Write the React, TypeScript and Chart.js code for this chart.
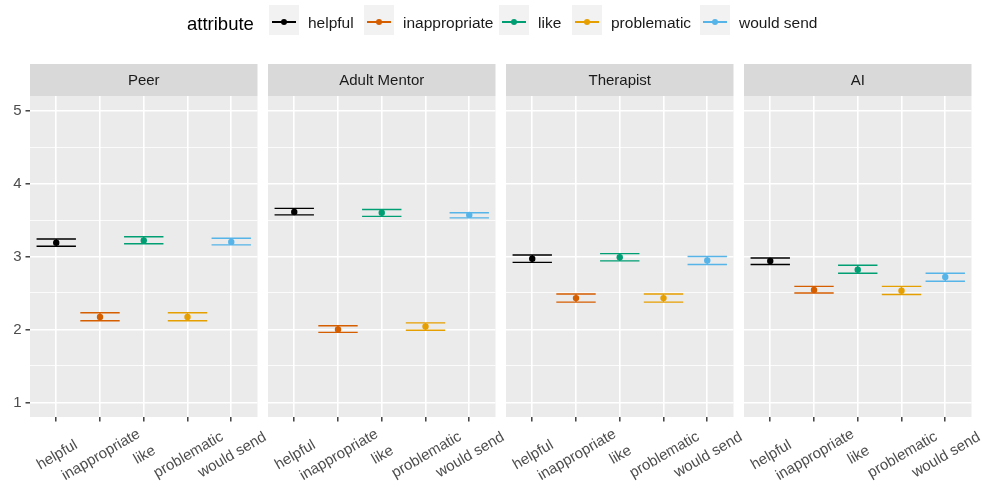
import React, { useEffect, useRef } from 'react';
import { Chart, registerables } from 'chart.js';

Chart.register(...registerables);

const panels = ['Peer', 'Adult Mentor', 'Therapist', 'AI'];
const attributes = ['helpful', 'inappropriate', 'like', 'problematic', 'would send'];
const attributeColors = ['#000000', '#D55E00', '#009E73', '#E69F00', '#56B4E9'];
const yTickValues = [1, 2, 3, 4, 5];

const peerMean = [3.19, 2.17, 3.22, 2.17, 3.2];
const peerLow = [3.14, 2.12, 3.175, 2.12, 3.16];
const peerHigh = [3.24, 2.23, 3.27, 2.23, 3.25];

const mentorMean = [3.61, 2.0, 3.6, 2.04, 3.57];
const mentorLow = [3.57, 1.96, 3.55, 1.99, 3.53];
const mentorHigh = [3.66, 2.05, 3.645, 2.09, 3.6];

const therapistMean = [2.97, 2.43, 2.99, 2.43, 2.945];
const therapistLow = [2.92, 2.375, 2.94, 2.375, 2.89];
const therapistHigh = [3.02, 2.485, 3.04, 2.485, 3.0];

const aiMean = [2.94, 2.54, 2.82, 2.53, 2.72];
const aiLow = [2.89, 2.5, 2.77, 2.48, 2.66];
const aiHigh = [2.98, 2.59, 2.88, 2.59, 2.77];

const panelMeans = [peerMean, mentorMean, therapistMean, aiMean];
const panelLows = [peerLow, mentorLow, therapistLow, aiLow];
const panelHighs = [peerHigh, mentorHigh, therapistHigh, aiHigh];

const W = 982;
const H = 489;
const FONT = '"Liberation Sans", Arial, Helvetica, sans-serif';
const PANEL_LEFT0 = 30;
const PANEL_STEP = 238;
const PANEL_W = 227.5;
const PANEL_TOP = 96;
const STRIP_H = 32;
const XAXIS_H = 72;

const legendKeyLefts = [269, 364, 499, 572, 700];

function isInt(v: number) {
  return Math.abs(v - Math.round(v)) < 1e-9;
}

function makeChart(canvas: HTMLCanvasElement, p: number) {
  const first = p === 0;
  const panelLeft = PANEL_LEFT0 + p * PANEL_STEP;
  const yAxisW = first ? 30 : 0;
  const means = panelMeans[p];
  const lows = panelLows[p];
  const highs = panelHighs[p];
  const yAll: number[] = [];
  yTickValues.forEach((v, i) => {
    yAll.push(v);
    if (i < yTickValues.length - 1) yAll.push(v + 0.5);
  });

  const panelPlugin = {
    id: 'panelPlugin',
    beforeDraw(chart: any) {
      const { ctx, chartArea } = chart;
      ctx.save();
      ctx.fillStyle = '#EBEBEB';
      ctx.fillRect(chartArea.left, chartArea.top, chartArea.right - chartArea.left, chartArea.bottom - chartArea.top);
      ctx.fillStyle = '#D9D9D9';
      ctx.fillRect(chartArea.left, chartArea.top - STRIP_H, chartArea.right - chartArea.left, STRIP_H);
      ctx.fillStyle = '#1A1A1A';
      ctx.font = `15px ${FONT}`;
      ctx.textAlign = 'center';
      ctx.textBaseline = 'middle';
      ctx.fillText(panels[p], (chartArea.left + chartArea.right) / 2, chartArea.top - STRIP_H / 2 + 0.5);
      ctx.restore();
    },
    beforeDatasetsDraw(chart: any) {
      const { ctx } = chart;
      const xs = chart.scales.x;
      const ys = chart.scales.y;
      ctx.save();
      ctx.lineWidth = 1.4;
      attributes.forEach((_, i) => {
        const x = xs.getPixelForValue(i + 1);
        const x0 = xs.getPixelForValue(i + 1 - 0.45);
        const x1 = xs.getPixelForValue(i + 1 + 0.45);
        const yl = ys.getPixelForValue(lows[i]);
        const yh = ys.getPixelForValue(highs[i]);
        ctx.strokeStyle = attributeColors[i];
        ctx.beginPath();
        ctx.moveTo(x0, yl);
        ctx.lineTo(x1, yl);
        ctx.moveTo(x0, yh);
        ctx.lineTo(x1, yh);
        ctx.moveTo(x, yl);
        ctx.lineTo(x, yh);
        ctx.stroke();
      });
      ctx.restore();
    },
    afterDraw(chart: any) {
      const { ctx, chartArea } = chart;
      const xs = chart.scales.x;
      ctx.save();
      ctx.font = `15px ${FONT}`;
      ctx.fillStyle = '#4D4D4D';
      ctx.textAlign = 'center';
      ctx.textBaseline = 'middle';
      attributes.forEach((a, i) => {
        const x = xs.getPixelForValue(i + 1);
        ctx.save();
        ctx.translate(x + 1, chartArea.bottom + 38);
        ctx.rotate(-Math.PI / 6);
        ctx.fillText(a, 0, 0);
        ctx.restore();
      });
      ctx.restore();
    },
  };

  return new Chart(canvas, {
    type: 'scatter',
    data: {
      datasets: attributes.map((a, i) => ({
        label: a,
        data: [{ x: i + 1, y: means[i] }],
        backgroundColor: attributeColors[i],
        borderColor: attributeColors[i],
        borderWidth: 0,
        pointRadius: 3.2,
        pointHoverRadius: 3.2,
      })),
    },
    options: {
      animation: false,
      responsive: false,
      devicePixelRatio: 1,
      events: [],
      layout: {
        padding: {
          left: panelLeft - yAxisW,
          right: W - panelLeft - PANEL_W,
          top: PANEL_TOP,
          bottom: 0,
        },
      },
      plugins: {
        legend: { display: false },
        tooltip: { enabled: false },
        title: { display: false },
      },
      scales: {
        x: {
          type: 'linear',
          min: 0.4,
          max: 5.6,
          afterBuildTicks: (s: any) => {
            s.ticks = attributes.map((_, i) => ({ value: i + 1 }));
          },
          afterFit: (s: any) => {
            s.height = XAXIS_H;
          },
          ticks: { display: false },
          grid: {
            color: '#FFFFFF',
            lineWidth: 1.6,
            drawTicks: true,
            tickLength: 4.5,
            tickColor: '#333333',
            tickWidth: 1.4,
          },
          border: { display: false },
        },
        y: {
          type: 'linear',
          min: 0.8,
          max: 5.2,
          afterBuildTicks: (s: any) => {
            s.ticks = yAll.map((v) => ({ value: v }));
          },
          afterFit: (s: any) => {
            s.width = yAxisW;
          },
          ticks: {
            display: first,
            padding: 4,
            color: '#4D4D4D',
            font: { family: FONT, size: 15 },
            callback: (v: any) => (isInt(Number(v)) ? String(v) : ''),
          },
          grid: {
            color: '#FFFFFF',
            lineWidth: (c: any) => (c.tick && isInt(c.tick.value) ? 1.6 : 0.8),
            drawTicks: first,
            tickLength: 4.5,
            tickColor: (c: any) => (c.tick && isInt(c.tick.value) ? '#333333' : 'rgba(0,0,0,0)'),
            tickWidth: 1.4,
          },
          border: { display: false },
        },
      },
    } as any,
    plugins: [panelPlugin],
  });
}

function PanelChart({ index }: { index: number }) {
  const ref = useRef<HTMLCanvasElement | null>(null);
  useEffect(() => {
    if (!ref.current) return;
    const chart = makeChart(ref.current, index);
    return () => chart.destroy();
  }, [index]);
  return (
    <canvas
      ref={ref}
      width={W}
      height={H}
      style={{ position: 'absolute', left: 0, top: 0, width: W, height: H }}
    />
  );
}

function Legend() {
  return (
    <div style={{ position: 'absolute', left: 0, top: 0, width: W, height: 40, fontFamily: FONT }}>
      <div
        style={{
          position: 'absolute',
          left: 187,
          top: 9,
          height: 30,
          lineHeight: '30px',
          fontSize: 18.5,
          color: '#000000',
          whiteSpace: 'nowrap',
        }}
      >
        attribute
      </div>
      {attributes.map((a, i) => (
        <React.Fragment key={a}>
          <div
            style={{
              position: 'absolute',
              left: legendKeyLefts[i],
              top: 5,
              width: 30,
              height: 30,
              background: '#F2F2F2',
            }}
          >
            <div
              style={{
                position: 'absolute',
                left: 3,
                top: 16,
                width: 24,
                height: 1.5,
                background: attributeColors[i],
              }}
            />
            <div
              style={{
                position: 'absolute',
                left: 12,
                top: 13.75,
                width: 6,
                height: 6,
                borderRadius: '50%',
                background: attributeColors[i],
              }}
            />
          </div>
          <div
            style={{
              position: 'absolute',
              left: legendKeyLefts[i] + 39,
              top: 8,
              height: 30,
              lineHeight: '30px',
              fontSize: 15.5,
              color: '#1A1A1A',
              whiteSpace: 'nowrap',
            }}
          >
            {a}
          </div>
        </React.Fragment>
      ))}
    </div>
  );
}

export default function App() {
  return (
    <div
      style={{
        position: 'fixed',
        left: 0,
        top: 0,
        width: W,
        height: H,
        background: '#FFFFFF',
        overflow: 'hidden',
      }}
    >
      {panels.map((_, i) => (
        <PanelChart key={i} index={i} />
      ))}
      <Legend />
    </div>
  );
}
